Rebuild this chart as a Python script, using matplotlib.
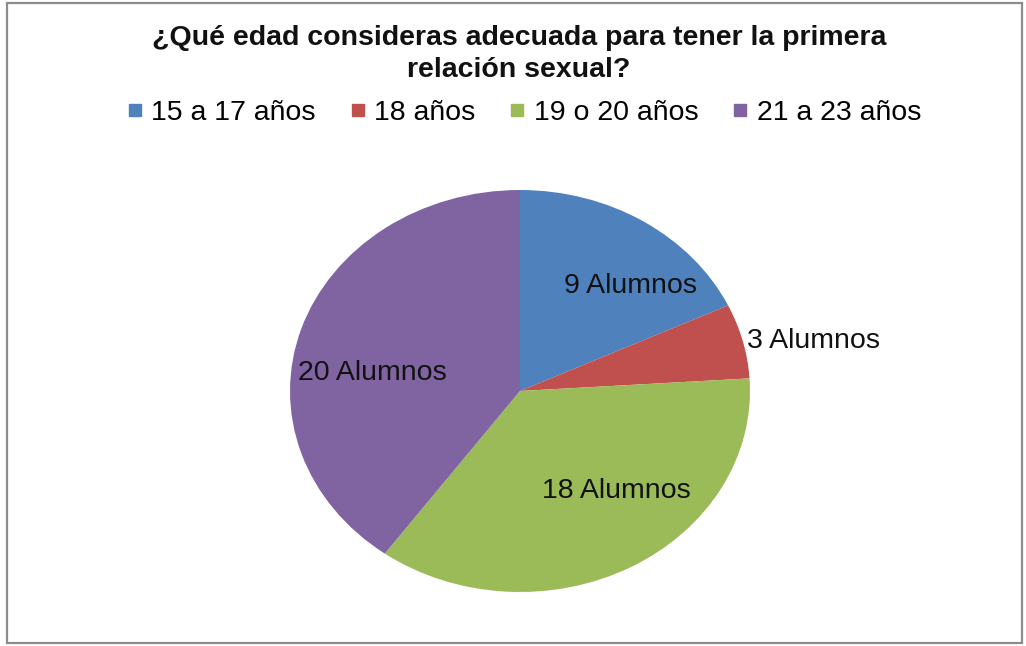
import matplotlib
matplotlib.use("Agg")
import matplotlib.pyplot as plt
from matplotlib.lines import Line2D
from matplotlib.patches import Rectangle
import numpy as np

plt.rcParams['font.family'] = ['Liberation Sans', 'DejaVu Sans']

title = "¿Qué edad consideras adecuada para tener la primera\nrelación sexual?"
categories = ["15 a 17 años", "18 años", "19 o 20 años", "21 a 23 años"]
values = [9, 3, 18, 20]
colors = ["#4F81BD", "#C0504D", "#9BBB59", "#8064A2"]
# label placement in pie units: (angle in degrees, radius)
label_pos = [(47.5, 0.71), (11, 1.30), (-50, 0.65), (172, 0.65)]

W, H = 1026, 646
fig = plt.figure(figsize=(W / 100, H / 100), dpi=100)

# chart border
fig.patches.append(Rectangle((7 / W, 3 / H), (1022 - 7) / W, (643 - 3) / H,
                             transform=fig.transFigure, fill=False,
                             edgecolor="#8c8c8c", linewidth=1.6))

# pie axes (bounding box of the pie in pixels)
left, right, top, bottom = 290, 750, 190, 592
ax = fig.add_axes([left / W, (H - bottom) / H, (right - left) / W, (bottom - top) / H])
ax.pie(values, colors=colors, startangle=90, counterclock=False, radius=1,
       wedgeprops=dict(linewidth=0))
ax.set_aspect('auto')
ax.set_xlim(-1, 1)
ax.set_ylim(-1, 1)
ax.axis('off')

for v, (ang, r) in zip(values, label_pos):
    a = np.deg2rad(ang)
    ax.text(r * np.cos(a), r * np.sin(a), f"{v} Alumnos", ha='center', va='center',
            fontsize=20.5, color='#111111')

fig.text(519 / W, 1 - 54 / H, title, ha='center', va='center', fontsize=20.5,
         fontweight='bold', color='#111111', linespacing=1.28)

handles = [Line2D([0], [0], marker='s', linestyle='none', markersize=9,
                  markerfacecolor=c, markeredgecolor=c) for c in colors]
fig.legend(handles, categories, loc='center', bbox_to_anchor=(524 / W, 1 - 113 / H),
           ncol=4, frameon=False, fontsize=20.5, handlelength=0.55, handletextpad=0.3,
           columnspacing=1.2)

fig.savefig("out.png", dpi=100, facecolor='white')
